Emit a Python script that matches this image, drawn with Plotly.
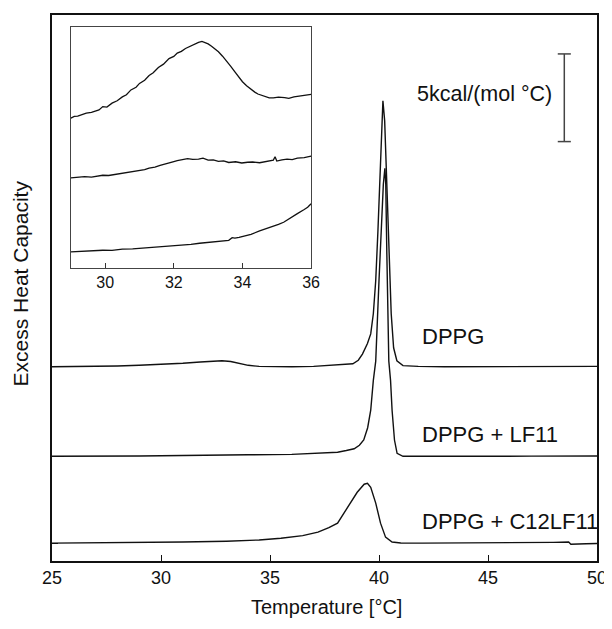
import plotly.graph_objects as go

# ---------------- main panel data (T in °C, Cp in kcal/(mol °C), offset) --------------
dppg_T = [25.0, 26.0, 27.0, 28.0, 29.0, 30.0, 31.0, 31.8, 32.4, 32.8, 33.2, 33.6, 34.0,
          34.5, 35.0, 36.0, 37.0, 37.8, 38.4, 38.8, 39.05, 39.24, 39.47, 39.62, 39.74,
          39.85, 39.95, 40.05, 40.12, 40.18, 40.26, 40.35, 40.45, 40.56, 40.67, 40.82,
          41.1, 41.8, 43.0, 45.0, 47.0, 50.0]
dppg_Cp = [11.08, 11.08, 11.09, 11.12, 11.16, 11.21, 11.28, 11.35, 11.40, 11.42, 11.38,
           11.27, 11.16, 11.10, 11.08, 11.08, 11.10, 11.15, 11.20, 11.25, 11.45, 11.80,
           12.40, 12.95, 14.10, 16.00, 18.80, 22.60, 25.10, 26.25, 25.10, 21.60, 17.80,
           14.10, 12.16, 11.42, 11.14, 11.10, 11.08, 11.08, 11.08, 11.10]

lf11_T = [25.0, 27.0, 29.0, 31.0, 32.5, 34.0, 36.0, 37.0, 37.6, 38.1, 38.5, 38.86, 39.1,
          39.3, 39.48, 39.62, 39.74, 39.85, 40.0, 40.12, 40.2, 40.27, 40.31, 40.36, 40.45,
          40.53, 40.6, 40.71, 40.83, 41.1, 43.0, 45.0, 47.0, 50.0]
lf11_Cp = [5.97, 5.97, 5.99, 6.02, 6.06, 6.06, 6.08, 6.12, 6.16, 6.20, 6.30, 6.40, 6.60,
           6.90, 7.60, 8.60, 10.30, 11.40, 16.00, 19.60, 21.50, 22.40, 21.50, 17.50, 11.40,
           10.30, 8.60, 6.90, 6.14, 5.97, 5.96, 5.97, 5.98, 5.99]

c12_T = [25.0, 27.0, 29.0, 31.0, 33.0, 34.5, 35.5, 36.5, 37.2, 37.7, 38.1, 38.56, 39.0,
         39.32, 39.47, 39.62, 39.85, 40.07, 40.3, 40.6, 41.0, 42.0, 44.0, 46.0, 48.0,
         48.7, 48.8, 49.5, 50.0]
c12_Cp = [1.02, 1.03, 1.05, 1.08, 1.13, 1.20, 1.30, 1.45, 1.65, 1.90, 2.16, 3.07, 3.92,
          4.38, 4.43, 4.20, 3.30, 2.16, 1.36, 1.08, 1.03, 1.02, 1.02, 1.03, 1.06, 1.08,
          0.96, 0.98, 1.00]

baselines = [1.02, 5.97, 11.08]
x_ticks = [25, 30, 35, 40, 45, 50]

# ---------------- inset data (T in °C, magnified signal, arbitrary units) ----------------
in_dppg_T = [29.0, 29.1, 29.2, 29.3, 29.45, 29.6, 29.7, 29.82, 29.93, 30.05, 30.2, 30.35,
             30.5, 30.62, 30.75, 30.9, 31.0, 31.15, 31.28, 31.4, 31.55, 31.7, 31.86, 32.0,
             32.1, 32.22, 32.34, 32.45, 32.55, 32.65, 32.72, 32.82, 32.92, 33.0, 33.1, 33.2,
             33.3, 33.42, 33.55, 33.66, 33.78, 33.9, 34.0, 34.12, 34.26, 34.36, 34.45, 34.55,
             34.65, 34.78, 34.9, 35.05, 35.23, 35.35, 35.5, 35.62, 35.75, 35.88, 36.0]
in_dppg_y = [62.2, 62.9, 63.0, 63.6, 64.3, 64.6, 65.1, 65.6, 67.0, 66.8, 68.4, 69.4,
             71.0, 71.9, 73.9, 75.0, 76.6, 77.9, 79.9, 81.0, 83.2, 84.6, 86.9, 87.8,
             89.2, 89.9, 91.1, 91.9, 92.6, 93.2, 93.6, 94.0, 93.6, 93.0, 92.0, 91.0,
             89.7, 87.9, 85.8, 83.7, 81.4, 79.1, 77.3, 75.6, 73.9, 73.0, 72.2, 71.7,
             71.1, 70.6, 70.6, 70.9, 70.7, 70.4, 71.0, 71.3, 71.4, 71.9, 72.1]

in_lf11_T = [29.0, 29.2, 29.4, 29.6, 29.8, 29.93, 30.1, 30.3, 30.45, 30.6, 30.8, 31.0,
             31.15, 31.28, 31.45, 31.6, 31.75, 31.86, 32.0, 32.1, 32.25, 32.4, 32.55, 32.72,
             32.85, 33.0, 33.15, 33.3, 33.45, 33.6, 33.8, 33.98, 34.15, 34.3, 34.5, 34.65,
             34.8, 34.9, 34.95, 35.0, 35.15, 35.3, 35.45, 35.6, 35.8, 36.0]
in_lf11_y = [37.4, 37.6, 37.9, 37.7, 38.3, 38.5, 38.4, 38.9, 39.3, 39.5, 39.9, 40.4,
             40.8, 41.5, 41.9, 42.6, 43.3, 43.6, 44.2, 44.6, 45.0, 45.4, 45.1, 45.2,
             45.6, 44.8, 44.9, 44.3, 44.5, 43.8, 44.1, 43.6, 43.9, 44.0, 43.7, 44.0,
             44.3, 44.8, 46.2, 44.4, 44.9, 45.2, 45.0, 45.6, 45.8, 46.4]

in_c12_T = [29.0, 29.25, 29.5, 29.75, 29.93, 30.2, 30.5, 30.8, 31.1, 31.35, 31.6, 31.8,
            32.0, 32.25, 32.5, 32.75, 33.0, 33.2, 33.4, 33.6, 33.7, 33.78, 33.9, 34.0,
            34.25, 34.5, 34.7, 34.9, 35.05, 35.2, 35.4, 35.6, 35.8, 35.9, 36.0]
in_c12_y = [6.7, 6.9, 7.0, 7.2, 7.4, 7.3, 7.9, 8.0, 8.3, 8.6, 8.8, 8.9,
            9.2, 9.6, 9.8, 10.3, 10.6, 10.8, 11.3, 11.5, 12.6, 12.4, 12.7, 13.0,
            14.0, 15.4, 16.3, 17.5, 18.1, 19.0, 20.9, 22.6, 24.3, 25.2, 26.7]
inset_ticks = [30, 32, 34, 36]

# ---------------- labels ---------------------------------------------------------------
curve_labels = ["DPPG", "DPPG + LF11", "DPPG + C12LF11"]
label_y = [12.8, 7.2, 2.27]
label_x = 41.9
scale_kcal = 5
scale_x = 48.5
scale_y0 = 23.92
scale_text = "5kcal/(mol °C)"

FONT = "Liberation Sans, Arial, Helvetica, sans-serif"
LINE = dict(color="#111111", width=1.4)

fig = go.Figure()
for T, Cp in [(dppg_T, dppg_Cp), (lf11_T, lf11_Cp), (c12_T, c12_Cp)]:
    fig.add_trace(go.Scatter(x=T, y=Cp, mode="lines", line=LINE,
                             xaxis="x", yaxis="y", showlegend=False, hoverinfo="skip"))
for T, Y in [(in_dppg_T, in_dppg_y), (in_lf11_T, in_lf11_y), (in_c12_T, in_c12_y)]:
    fig.add_trace(go.Scatter(x=T, y=Y, mode="lines", line=dict(color="#111111", width=1.3),
                             xaxis="x2", yaxis="y2", showlegend=False, hoverinfo="skip"))

# scale bar
fig.add_shape(type="line", x0=scale_x, x1=scale_x, y0=scale_y0, y1=scale_y0 + scale_kcal,
              xref="x", yref="y", line=dict(color="#444444", width=1.5))
for yy in [scale_y0, scale_y0 + scale_kcal]:
    fig.add_shape(type="line", x0=scale_x - 0.3, x1=scale_x + 0.3, y0=yy, y1=yy,
                  xref="x", yref="y", line=dict(color="#444444", width=1.5))

annotations = []
for txt, yy in zip(curve_labels, label_y):
    annotations.append(dict(x=label_x, y=yy, xref="x", yref="y", text=txt, showarrow=False,
                            xanchor="left", yanchor="middle",
                            font=dict(family=FONT, size=22, color="#111111")))
annotations.append(dict(x=scale_x - 0.45, y=scale_y0 + scale_kcal / 2 + 0.2, xref="x", yref="y",
                        text=scale_text, showarrow=False, xanchor="right", yanchor="middle",
                        font=dict(family=FONT, size=21.5, color="#111111")))
annotations.append(dict(x=-0.058, y=0.509, xref="paper", yref="paper",
                        text="Excess Heat Capacity", textangle=-90, showarrow=False,
                        xanchor="center", yanchor="middle",
                        font=dict(family=FONT, size=21, color="#111111")))
annotations.append(dict(x=0.503, y=-0.084, xref="paper", yref="paper",
                        text="Temperature [°C]", showarrow=False,
                        xanchor="center", yanchor="middle",
                        font=dict(family=FONT, size=20, color="#111111")))

# the page body adds an 8 px offset, so the figure is sized to fit the 612x629 window
fig.update_layout(
    width=604, height=613,
    margin=dict(l=44, r=11, t=5, b=60),
    paper_bgcolor="white", plot_bgcolor="white",
    font=dict(family=FONT, color="#111111"),
    annotations=annotations,
    xaxis=dict(range=[25, 50], tickvals=x_ticks, ticks="inside", ticklen=6, tickwidth=1.2,
               tickcolor="#111111", showgrid=False, zeroline=False, showline=True,
               linecolor="#111111", linewidth=1.5, mirror=True,
               tickfont=dict(family=FONT, size=18, color="#111111")),
    yaxis=dict(range=[0, 31.14], tickvals=baselines, ticks="inside", ticklen=6,
               tickwidth=1.2, tickcolor="#111111", showticklabels=False, showgrid=False,
               zeroline=False, showline=True, linecolor="#111111", linewidth=1.5,
               mirror=True),
    xaxis2=dict(domain=[0.0346, 0.4754], anchor="y2", range=[29, 36], tickvals=inset_ticks,
                ticks="inside", ticklen=5, tickwidth=1.2, tickcolor="#333333",
                showgrid=False, zeroline=False, showline=True, linecolor="#444444",
                linewidth=1.4, mirror=True,
                tickfont=dict(family=FONT, size=16, color="#111111")),
    yaxis2=dict(domain=[0.5365, 0.978], anchor="x2", range=[0, 100], showticklabels=False,
                ticks="", showgrid=False, zeroline=False, showline=True,
                linecolor="#444444", linewidth=1.4, mirror=True),
)

fig.write_html("out.html")
